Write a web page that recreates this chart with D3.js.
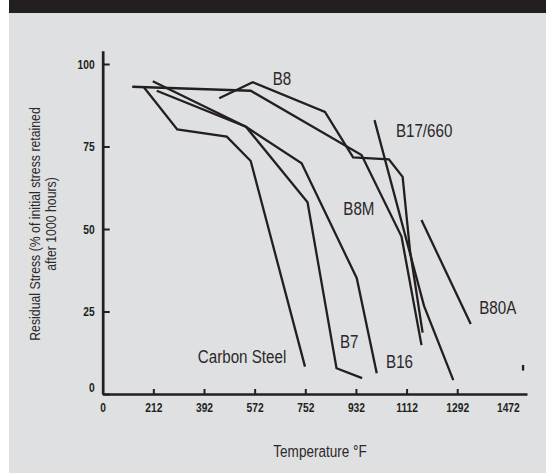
<!DOCTYPE html>
<html>
<head>
<meta charset="utf-8">
<script src="https://d3js.org/d3.v7.min.js"></script>
<style>
    body { margin: 0; background: #fff; }
    svg { display: block; }
    .tick text {
        font-family: "Liberation Sans", Arial, sans-serif;
        font-weight: bold;
        font-size: 12.5px;
        fill: #231f20;
    }
    .label, .title {
        font-family: "Liberation Sans", Arial, sans-serif;
        fill: #2b2829;
    }
    path.series {
        fill: none;
        stroke: #231f20;
        stroke-width: 2.3px;
        stroke-linejoin: miter;
    }
</style>
</head>
<body>
<script>
// temperature ticks (deg F) - first tick is printed as "0"
var xTickValues = [32, 212, 392, 572, 752, 932, 1112, 1292, 1472];
var xTickLabels = ["0", "212", "392", "572", "752", "932", "1112", "1292", "1472"];
var yTickValues = [0, 25, 50, 75, 100];

// [temperature F, residual stress %]
var carbonSteel = [[179, 92.9], [297, 80.2], [473, 78.0], [558, 70.6], [751, 8.3]];
var b7 = [[224, 91.9], [541, 81.0], [760, 58.1], [863, 7.8], [954, 4.8]];
var b16 = [[210, 94.8], [541, 81.0], [739, 69.9], [935, 35.1], [1006, 6.3]];
var b8 = [[446, 89.6], [565, 94.5], [822, 85.5], [922, 71.7], [1049, 71.1], [1098, 65.8], [1124, 43.6], [1169, 18.6]];
var b8m = [[137, 93.1], [558, 91.9], [952, 72.4], [1094, 47.7], [1165, 14.8]];
var b17 = [[998, 83.0], [1174, 26.7], [1278, 4.2]];
var b80a = [[1165, 52.7], [1340, 21.2]];
var stub = [[1526, 8.8], [1526, 7.1]];

var series = [carbonSteel, b7, b16, b8, b8m, b17, b80a, stub];

// curve labels
var labelNames = ["B8", "B17/660", "B8M", "B80A", "B7", "B16", "Carbon Steel"];
var labelTemps = [636, 1074, 887, 1370, 875, 1039, 370];
var labelValues = [93.6, 77.8, 54.2, 24.2, 13.8, 7.8, 9.3];

var width = 546,
    height = 473,
    narrow = 0.82;   // squeeze Liberation Sans into a condensed face

var svg = d3.select("body").append("svg")
    .attr("width", width)
    .attr("height", height);

// background panel + dark band on top
svg.append("rect").attr("width", width).attr("height", height).attr("fill", "#fff");
svg.append("rect").attr("x", 9).attr("y", 0).attr("width", width - 9).attr("height", height).attr("fill", "#dfe0e2");
svg.append("rect").attr("x", 9).attr("y", 0).attr("width", width - 9).attr("height", 13).attr("fill", "#231f20");

var x = d3.scaleLinear().domain([32, 1540]).range([102.7, 527]);
var y = d3.scaleLinear().domain([0, 104]).range([394, 50.8]);

var xAxis = svg.append("g")
    .attr("transform", "translate(0," + y(0) + ")")
    .call(d3.axisBottom(x)
        .tickValues(xTickValues)
        .tickFormat(function (d, i) { return xTickLabels[i]; })
        .tickSize(-5)
        .tickSizeOuter(0)
        .tickPadding(9));

var yAxis = svg.append("g")
    .attr("transform", "translate(" + x(32) + ",0)")
    .call(d3.axisLeft(y)
        .tickValues(yTickValues)
        .tickSize(-7)
        .tickSizeOuter(0)
        .tickPadding(8));

svg.selectAll(".domain").attr("stroke", "#231f20").attr("stroke-width", 2.7);
svg.selectAll(".tick line").attr("stroke", "#231f20").attr("stroke-width", 2);

// condensed tick labels
xAxis.selectAll(".tick text").attr("transform", "scale(" + narrow + ",1)");
yAxis.selectAll(".tick text")
    .attr("x", -8 / narrow)
    .attr("transform", "scale(" + narrow + ",1)");

// no tick marks at the ends of the temperature axis
xAxis.selectAll(".tick line").filter(function (d) { return d === 32 || d === 1472; }).remove();
// the zero label sits a bit above the axis
yAxis.selectAll(".tick text").filter(function (d) { return d === 0; }).attr("dy", "-0.2em");

var line = d3.line()
    .x(function (d) { return x(d[0]); })
    .y(function (d) { return y(d[1]); });

svg.append("g")
    .selectAll("path")
    .data(series)
    .enter()
    .append("path")
    .attr("class", "series")
    .attr("d", line);

svg.append("g")
    .selectAll("text")
    .data(labelNames)
    .enter()
    .append("text")
    .attr("class", "label")
    .attr("transform", function (d, i) {
        return "translate(" + x(labelTemps[i]) + "," + y(labelValues[i]) + ") scale(" + narrow + ",1)";
    })
    .style("font-size", "18.5px")
    .text(function (d) { return d; });

// axis titles
svg.append("text")
    .attr("class", "title")
    .attr("transform", "translate(320,457) scale(" + narrow + ",1)")
    .attr("text-anchor", "middle")
    .style("font-size", "16.5px")
    .text("Temperature °F");

var yTitle = svg.append("text")
    .attr("class", "title")
    .attr("transform", "translate(40,224) rotate(-90) scale(" + narrow + ",1)")
    .attr("text-anchor", "middle")
    .style("font-size", "15px");
yTitle.append("tspan").attr("x", 0).attr("dy", 0).text("Residual Stress (% of initial stress retained");
yTitle.append("tspan").attr("x", 0).attr("dy", "1.1em").text("after 1000 hours)");
</script>
</body>
</html>
